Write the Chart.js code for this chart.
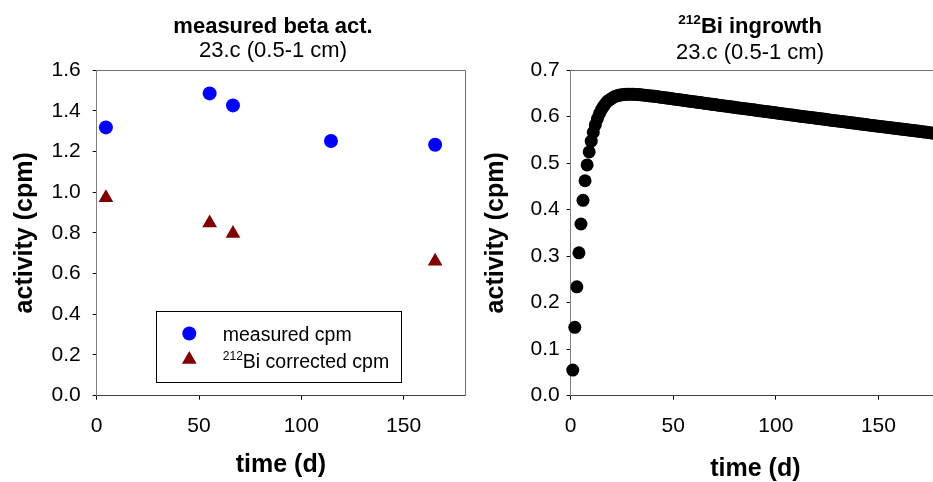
<!DOCTYPE html>
<html>
<head>
<meta charset="utf-8">
<title>measured beta act. / 212Bi ingrowth - 23.c (0.5-1 cm)</title>
<script src="https://cdn.jsdelivr.net/npm/chart.js@4.4.1/dist/chart.umd.min.js"></script>
<style>
  html, body { margin: 0; padding: 0; background: #fff; overflow: hidden; }
  #wrap { position: relative; width: 933px; height: 482px; overflow: hidden; }
  canvas { position: absolute; top: 0; }
  #left { left: 0; }
  #right { left: 466px; }
</style>
</head>
<body>
<div id="wrap">
  <canvas id="left" width="470" height="482"></canvas>
  <canvas id="right" width="480" height="482"></canvas>
</div>
<script>
// ===== data =====
const measTime = [4.5, 55.2, 66.6, 114.5, 165.4];
const measCpm  = [1.318, 1.485, 1.426, 1.251, 1.233];
const corrTime = [4.5, 55.2, 66.6, 165.4];
const corrCpm  = [0.972, 0.849, 0.797, 0.661];

const ingrowthDay = [
  1, 2, 3, 4, 5, 6, 7, 8, 9, 10, 11, 12, 13, 14, 15, 16, 17, 18, 19, 20,
  21, 22, 23, 24, 25, 26, 27, 28, 29, 30, 31, 32, 33, 34, 35, 36, 37, 38, 39, 40,
  41, 42, 43, 44, 45, 46, 47, 48, 49, 50, 51, 52, 53, 54, 55, 56, 57, 58, 59, 60,
  61, 62, 63, 64, 65, 66, 67, 68, 69, 70, 71, 72, 73, 74, 75, 76, 77, 78, 79, 80,
  81, 82, 83, 84, 85, 86, 87, 88, 89, 90, 91, 92, 93, 94, 95, 96, 97, 98, 99, 100,
  101, 102, 103, 104, 105, 106, 107, 108, 109, 110, 111, 112, 113, 114, 115, 116, 117, 118, 119, 120,
  121, 122, 123, 124, 125, 126, 127, 128, 129, 130, 131, 132, 133, 134, 135, 136, 137, 138, 139, 140,
  141, 142, 143, 144, 145, 146, 147, 148, 149, 150, 151, 152, 153, 154, 155, 156, 157, 158, 159, 160,
  161, 162, 163, 164, 165, 166, 167, 168, 169, 170, 171, 172, 173, 174, 175, 176, 177, 178, 179, 180
];
const ingrowthCpm = [
  0.055, 0.147, 0.234, 0.307, 0.369, 0.420, 0.462, 0.496, 0.524, 0.547,
  0.566, 0.582, 0.595, 0.606, 0.615, 0.622, 0.628, 0.633, 0.636, 0.639,
  0.6420, 0.6438, 0.6452, 0.6462, 0.6469, 0.6475, 0.6478, 0.6480, 0.6479, 0.6479,
  0.6477, 0.6474, 0.6471, 0.6467, 0.6463, 0.6458, 0.6454, 0.6449, 0.6443, 0.6439,
  0.6434, 0.6428, 0.6422, 0.6416, 0.6410, 0.6404, 0.6397, 0.6391, 0.6385, 0.6379,
  0.6373, 0.6367, 0.6361, 0.6355, 0.6349, 0.6342, 0.6336, 0.6330, 0.6324, 0.6318,
  0.6312, 0.6306, 0.6300, 0.6294, 0.6288, 0.6281, 0.6275, 0.6269, 0.6263, 0.6257,
  0.6251, 0.6245, 0.6239, 0.6233, 0.6227, 0.6221, 0.6215, 0.6209, 0.6203, 0.6197,
  0.6191, 0.6185, 0.6179, 0.6173, 0.6168, 0.6162, 0.6156, 0.6150, 0.6144, 0.6138,
  0.6132, 0.6126, 0.6120, 0.6114, 0.6109, 0.6103, 0.6097, 0.6091, 0.6085, 0.6079,
  0.6073, 0.6067, 0.6061, 0.6055, 0.6050, 0.6044, 0.6038, 0.6032, 0.6026, 0.6020,
  0.6014, 0.6008, 0.6003, 0.5997, 0.5991, 0.5985, 0.5979, 0.5974, 0.5968, 0.5962,
  0.5956, 0.5951, 0.5945, 0.5939, 0.5934, 0.5928, 0.5922, 0.5916, 0.5911, 0.5905,
  0.5899, 0.5894, 0.5888, 0.5882, 0.5877, 0.5871, 0.5865, 0.5859, 0.5854, 0.5848,
  0.5842, 0.5837, 0.5831, 0.5826, 0.5820, 0.5814, 0.5809, 0.5803, 0.5798, 0.5792,
  0.5786, 0.5781, 0.5775, 0.5770, 0.5764, 0.5758, 0.5753, 0.5747, 0.5742, 0.5736,
  0.5731, 0.5725, 0.5720, 0.5714, 0.5709, 0.5703, 0.5698, 0.5692, 0.5687, 0.5681,
  0.5676, 0.5670, 0.5665, 0.5659, 0.5654, 0.5648, 0.5643, 0.5637, 0.5632, 0.5626
];

const xTicks      = [0, 50, 100, 150];
const leftYTicks  = [0.0, 0.2, 0.4, 0.6, 0.8, 1.0, 1.2, 1.4, 1.6];
const rightYTicks = [0.0, 0.1, 0.2, 0.3, 0.4, 0.5, 0.6, 0.7];

// ===== helpers =====
const FAMILY = "'Liberation Sans', Arial, sans-serif";
const fontStr = (size, bold) => (bold ? 'bold ' : '') + size + 'px ' + FAMILY;

// draw text made of [text, isSuperscript] parts; align 'center' or 'left'
function drawRich(ctx, parts, x, baseline, size, bold, align) {
  const supSize = size * 0.62;
  let total = 0;
  parts.forEach(p => {
    ctx.font = fontStr(p[1] ? supSize : size, bold);
    total += ctx.measureText(p[0]).width;
  });
  let cx = align === 'center' ? x - total / 2 : x;
  ctx.textAlign = 'left';
  ctx.textBaseline = 'alphabetic';
  ctx.fillStyle = '#000';
  parts.forEach(p => {
    ctx.font = fontStr(p[1] ? supSize : size, bold);
    ctx.fillText(p[0], cx, p[1] ? baseline - size * 0.42 : baseline);
    cx += ctx.measureText(p[0]).width;
  });
}

const useTicks = arr => scale => { scale.ticks = arr.map(v => ({ value: v })); };

// box around the plot (top + right edges)
const framePlugin = {
  id: 'frame',
  beforeDatasetsDraw(chart) {
    const { ctx, chartArea: a } = chart;
    ctx.save();
    ctx.strokeStyle = '#707070';
    ctx.lineWidth = 1;
    ctx.beginPath();
    ctx.moveTo(a.left, a.top + 0.5);
    ctx.lineTo(a.right + 0.5, a.top + 0.5);
    ctx.lineTo(a.right + 0.5, a.bottom);
    ctx.stroke();
    ctx.restore();
  }
};

const titlePlugin = {
  id: 'richTitle',
  afterDraw(chart, args, opts) {
    const ctx = chart.ctx;
    ctx.save();
    drawRich(ctx, opts.main, opts.x, opts.mainBase, 22, true, 'center');
    drawRich(ctx, opts.sub, opts.x, opts.subBase, 22, false, 'center');
    ctx.restore();
  }
};

const boxLegendPlugin = {
  id: 'boxLegend',
  afterDraw(chart, args, opts) {
    if (!opts.box) return;
    const ctx = chart.ctx;
    const b = opts.box;
    ctx.save();
    ctx.fillStyle = '#fff';
    ctx.fillRect(b.x, b.y, b.w, b.h);
    ctx.strokeStyle = '#000';
    ctx.lineWidth = 1;
    ctx.strokeRect(b.x + 0.5, b.y + 0.5, b.w, b.h);
    chart.data.datasets.forEach((ds, i) => {
      const row = opts.rows[i];
      ctx.fillStyle = ds.backgroundColor;
      ctx.strokeStyle = ds.backgroundColor;
      Chart.helpers.drawPoint(ctx, { pointStyle: ds.pointStyle, radius: ds.pointRadius, rotation: 0, borderWidth: 0 },
        opts.markerX, row.markerY);
      drawRich(ctx, row.label, opts.textX, row.base, 19.5, false, 'left');
    });
    ctx.restore();
  }
};

function axisX(padBottom) {
  return {
    type: 'linear', min: 0, max: 180,
    afterBuildTicks: useTicks(xTicks),
    afterFit: s => { s.height = 86.3; s.paddingLeft = 0; s.paddingRight = 0; },
    ticks: { color: '#000', font: { family: FAMILY, size: 21 }, padding: 14 },
    grid: { drawOnChartArea: false, drawTicks: true, tickLength: 4, tickColor: '#000' },
    border: { display: true, color: '#404040', width: 1 },
    title: { display: true, text: 'time (d)', color: '#000',
      font: { family: FAMILY, size: 25, weight: 'bold', lineHeight: 1.0 },
      padding: { top: 0, bottom: padBottom } }
  };
}

function axisY(max, ticks, width, pad, titlePad) {
  return {
    type: 'linear', min: 0, max: max,
    afterBuildTicks: useTicks(ticks),
    afterFit: s => { s.width = width; s.paddingTop = 0; s.paddingBottom = 0; },
    ticks: { color: '#000', font: { family: FAMILY, size: 21 }, padding: pad,
      callback: v => Number(v).toFixed(1) },
    grid: { drawOnChartArea: false, drawTicks: true, tickLength: 4, tickColor: '#000' },
    border: { display: true, color: '#808080', width: 1 },
    title: { display: true, text: 'activity (cpm)', color: '#000',
      font: { family: FAMILY, size: 25, weight: 'bold', lineHeight: 1.0 },
      padding: { top: titlePad, bottom: 0 } }
  };
}

const commonPlugins = {
  legend: { display: false },
  tooltip: { enabled: false }
};

// ===== left chart: measured beta activity =====
new Chart(document.getElementById('left'), {
  type: 'scatter',
  data: {
    datasets: [
      { label: 'measured cpm', data: measTime.map((t, i) => ({ x: t, y: measCpm[i] })),
        pointStyle: 'circle', pointRadius: 7, backgroundColor: '#0000ff', borderWidth: 0 },
      { label: '212Bi corrected cpm', data: corrTime.map((t, i) => ({ x: t, y: corrCpm[i] })),
        pointStyle: 'triangle', pointRadius: 8.5, backgroundColor: '#800000', borderWidth: 0 }
    ]
  },
  options: {
    responsive: false, animation: false, devicePixelRatio: 1,
    layout: { autoPadding: false, padding: { top: 70, right: 5, left: 0, bottom: 0 } },
    scales: { x: axisX(4), y: axisY(1.6, leftYTicks, 96.7, 12, 12.5) },
    plugins: Object.assign({}, commonPlugins, {
      richTitle: { x: 273, mainBase: 33.3, subBase: 57.3,
        main: [['measured beta act.', false]], sub: [['23.c (0.5-1 cm)', false]] },
      boxLegend: {
        box: { x: 156, y: 311, w: 245, h: 71 },
        markerX: 189.3, textX: 222.7,
        rows: [
          { markerY: 333.5, base: 340.7, label: [['measured cpm', false]] },
          { markerY: 359.5, base: 368.3, label: [['212', true], ['Bi corrected cpm', false]] }
        ]
      }
    })
  },
  plugins: [framePlugin, titlePlugin, boxLegendPlugin]
});

// ===== right chart: 212Bi ingrowth =====
new Chart(document.getElementById('right'), {
  type: 'scatter',
  data: {
    datasets: [
      { label: '212Bi ingrowth', data: ingrowthDay.map((t, i) => ({ x: t, y: ingrowthCpm[i] })),
        pointStyle: 'circle', pointRadius: 6.5, backgroundColor: '#000', borderWidth: 0, clip: false }
    ]
  },
  options: {
    responsive: false, animation: false, devicePixelRatio: 1,
    layout: { autoPadding: false, padding: { top: 70, right: 6, left: 0, bottom: 0 } },
    scales: { x: axisX(0), y: axisY(0.7, rightYTicks, 104.7, 7, 17.5) },
    plugins: Object.assign({}, commonPlugins, {
      richTitle: { x: 284, mainBase: 33.3, subBase: 59.3,
        main: [['212', true], ['Bi ingrowth', false]], sub: [['23.c (0.5-1 cm)', false]] },
      boxLegend: {}
    })
  },
  plugins: [framePlugin, titlePlugin, boxLegendPlugin]
});
</script>
</body>
</html>
